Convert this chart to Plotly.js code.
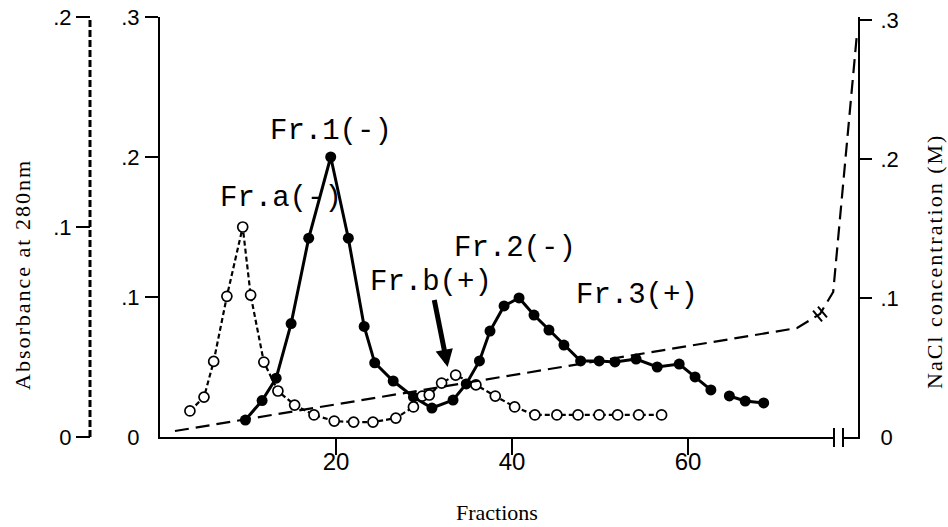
<!DOCTYPE html>
<html>
<head>
<meta charset="utf-8">
<script src="https://cdn.plot.ly/plotly-3.0.1.min.js"></script>
<style>
html,body{margin:0;padding:0;background:#fff;}
#chart{width:948px;height:527px;}
</style>
</head>
<body>
<div id="chart"></div>
<script>
// ---- Data ----
// Open circles, dashed curve (left dashed axis, 0-0.2): Fr.a(-), Fr.b(+)
const openFractions = [3.4, 5.0, 6.1, 7.6, 9.4, 10.3, 11.8, 13.4, 15.3, 17.5, 19.8, 22.0, 24.2, 26.8, 28.8, 29.8, 30.6, 32.0, 33.6, 35.9, 38.1, 40.3, 42.6, 45.1, 47.5, 49.9, 52.0, 54.4, 57.0];
const openAbsorbance = [0.0124, 0.019, 0.036, 0.067, 0.100, 0.0676, 0.0357, 0.0219, 0.0152, 0.0105, 0.0076, 0.0071, 0.0071, 0.009, 0.0143, 0.0195, 0.020, 0.0257, 0.0295, 0.0248, 0.0195, 0.0143, 0.0105, 0.0105, 0.0105, 0.0105, 0.0105, 0.0105, 0.0105];

// Filled circles, solid curve (left solid axis, 0-0.3): Fr.1(-), Fr.2(-), Fr.3(+)
const filledFractions = [9.7, 11.6, 13.2, 14.9, 16.9, 19.4, 21.4, 23.2, 24.4, 26.5, 28.8, 30.9, 33.3, 34.8, 36.3, 37.5, 39.1, 40.8, 42.5, 44.2, 45.9, 47.8, 49.9, 51.7, 54.1, 56.5, 59.0, 60.8, 62.6, null, 64.7, 66.5, 68.6];
const filledAbsorbance = [0.0121, 0.026, 0.042, 0.081, 0.142, 0.200, 0.142, 0.079, 0.053, 0.040, 0.0286, 0.0207, 0.0264, 0.0379, 0.0543, 0.0757, 0.0936, 0.0993, 0.0871, 0.0764, 0.0657, 0.0543, 0.0543, 0.0536, 0.0557, 0.050, 0.0521, 0.0429, 0.0336, null, 0.0293, 0.0257, 0.0243];

// NaCl gradient (right axis, 0-0.3 M)
const naclFractions = [1.7, 72.4, 75.0, 76.5, 79.2];
const naclConc = [0.0043, 0.0784, 0.0885, 0.1043, 0.29];
const naclBreakIndex = 2;      // break marks drawn on the gradient at this point

// Axis ticks / labels
const xTickVals = [20, 40, 60];
const absDashedTicks = [0, 0.1, 0.2];
const absSolidTicks = [0, 0.1, 0.2, 0.3];
const naclTicks = [0, 0.1, 0.2, 0.3];
const tickText = v => (v === 0 ? '0' : '.' + Math.round(v * 10));
const xAxisBreak = 77.1;       // fraction axis is broken here

// Peak labels
const labels = {
  a: 'Fr.a(-)', b: 'Fr.b(+)', one: 'Fr.1(-)', two: 'Fr.2(-)', three: 'Fr.3(+)'
};

// ---- Styling / layout ----
const W = 948, H = 527;
const M = {l: 60, r: 90, t: 17, b: 90};
const paperW = W - M.l - M.r;            // 798
const paperH = H - M.t - M.b;            // 420
const plotLeftPx = 160, dashedAxisPx = 90;
const xDomainStart = (plotLeftPx - M.l) / paperW;
const dashedPos = (dashedAxisPx - M.l) / paperW;
const pxPerFraction = 8.8;
const xMax = (W - M.r - plotLeftPx) / pxPerFraction;

const monoFont = {family: 'Liberation Mono, DejaVu Sans Mono, monospace', size: 29, color: '#000'};
const serifFont = {family: 'Liberation Serif, DejaVu Serif, serif', size: 22, color: '#000'};
const tickFontY = {family: 'Liberation Sans, Arial, sans-serif', size: 22, color: '#000'};
const tickFontX = {family: 'Liberation Sans, Arial, sans-serif', size: 24, color: '#000'};

const traces = [
  {
    x: naclFractions, y: naclConc, xaxis: 'x', yaxis: 'y3',
    mode: 'lines', line: {color: '#000', width: 2.2, dash: '14px,7px'},
    hoverinfo: 'skip', showlegend: false
  },
  {
    x: openFractions, y: openAbsorbance, xaxis: 'x', yaxis: 'y2',
    mode: 'lines+markers',
    line: {color: '#000', width: 2.2, dash: '5px,3px'},
    marker: {symbol: 'circle', size: 10, color: '#fff', line: {color: '#000', width: 1.7}},
    showlegend: false
  },
  {
    x: filledFractions, y: filledAbsorbance, xaxis: 'x', yaxis: 'y',
    mode: 'lines+markers', connectgaps: false,
    line: {color: '#000', width: 3},
    marker: {symbol: 'circle', size: 11, color: '#000'},
    showlegend: false
  }
];

// break marks on the gradient line (perpendicular ticks, pixel sized)
const ang = 40 * Math.PI / 180;
const along = [Math.cos(ang), Math.sin(ang)];
const perp = [Math.sin(ang), -Math.cos(ang)];
const shapes = [];
[-3.2, 3.2].forEach(d => {
  const cx = along[0] * d, cy = along[1] * d;
  shapes.push({
    type: 'line', xref: 'x', yref: 'y3', xsizemode: 'pixel', ysizemode: 'pixel',
    xanchor: naclFractions[naclBreakIndex], yanchor: naclConc[naclBreakIndex],
    x0: cx - perp[0] * 7, x1: cx + perp[0] * 7, y0: cy - perp[1] * 7, y1: cy + perp[1] * 7,
    line: {color: '#000', width: 2}
  });
});
// dashed absorbance axis line
shapes.push({
  type: 'line', xref: 'paper', yref: 'y2', x0: dashedPos, x1: dashedPos, y0: 0, y1: 0.2,
  line: {color: '#000', width: 3, dash: '7px,3px'}
});
// x axis break: white gap + two bars
shapes.push({
  type: 'rect', xref: 'x', yref: 'paper', xsizemode: 'pixel', ysizemode: 'pixel',
  xanchor: xAxisBreak, yanchor: 0, x0: -4, x1: 4, y0: -3, y1: 3,
  line: {width: 0}, fillcolor: '#fff'
});
[-4.5, 4.5].forEach(d => shapes.push({
  type: 'line', xref: 'x', yref: 'paper', xsizemode: 'pixel', ysizemode: 'pixel',
  xanchor: xAxisBreak, yanchor: 0, x0: d, x1: d, y0: -10, y1: 9,
  line: {color: '#000', width: 2}
}));

const annotations = [
  {x: filledFractions[5], y: filledAbsorbance[5], xref: 'x', yref: 'y', text: labels.one,
   showarrow: false, yshift: 26, font: monoFont},
  {x: openFractions[4], y: openAbsorbance[4], xref: 'x', yref: 'y2', text: labels.a,
   showarrow: false, xshift: 38, yshift: 29, font: monoFont},
  {x: filledFractions[17], y: filledAbsorbance[17], xref: 'x', yref: 'y', text: labels.two,
   showarrow: false, xshift: -4, yshift: 49, font: monoFont},
  {x: filledFractions[24], y: filledAbsorbance[24], xref: 'x', yref: 'y', text: labels.three,
   showarrow: false, xshift: 1, yshift: 64, font: monoFont},
  {x: openFractions[18], y: openAbsorbance[18], xref: 'x', yref: 'y2', text: labels.b,
   showarrow: true, arrowhead: 2, arrowsize: 0.7, arrowwidth: 5, arrowcolor: '#000',
   xshift: -8, yshift: 8, ax: -17, ay: -85, font: monoFont},
  // axis titles
  {xref: 'paper', yref: 'paper', x: (22 - M.l) / paperW, y: (437 - 275) / paperH,
   xanchor: 'center', yanchor: 'middle',
   text: 'Absorbance at 280nm', textangle: -90, showarrow: false, font: serifFont},
  {xref: 'paper', yref: 'paper', x: (934 - M.l) / paperW, y: (437 - 262) / paperH,
   xanchor: 'center', yanchor: 'middle',
   text: 'NaCl concentration (M)', textangle: -90, showarrow: false, font: serifFont},
  {xref: 'paper', yref: 'paper', x: (497 - M.l) / paperW, y: -(512 - 437) / paperH,
   xanchor: 'center', yanchor: 'middle',
   text: 'Fractions', showarrow: false, font: serifFont}
];

const layout = {
  width: W, height: H, margin: M,
  paper_bgcolor: '#fff', plot_bgcolor: '#fff',
  showlegend: false,
  xaxis: {
    domain: [xDomainStart, 1], range: [0, xMax],
    tickvals: xTickVals, ticktext: xTickVals.map(String),
    ticks: '', ticklabelstandoff: 2,
    minor: {tickvals: xTickVals, ticks: 'outside', ticklen: 16, tickwidth: 2, tickcolor: '#000', showgrid: false},
    showline: true, linecolor: '#000', linewidth: 2,
    showgrid: false, zeroline: false, tickfont: tickFontX, fixedrange: true
  },
  yaxis: {
    range: [0, 0.3], anchor: 'x', side: 'left',
    tickvals: absSolidTicks, ticktext: absSolidTicks.map(tickText),
    ticks: '', ticklabelstandoff: 14,
    minor: {tickvals: [0.1, 0.2, 0.3], ticks: 'outside', ticklen: 13, tickwidth: 2, tickcolor: '#000', showgrid: false},
    showline: true, linecolor: '#000', linewidth: 2,
    showgrid: false, zeroline: false, tickfont: tickFontY
  },
  yaxis2: {
    range: [0, 0.2], overlaying: 'y', anchor: 'free', position: dashedPos, side: 'left',
    tickvals: absDashedTicks, ticktext: absDashedTicks.map(tickText),
    ticks: 'outside', ticklen: 14, tickwidth: 2, tickcolor: '#000',
    showline: false, showgrid: false, zeroline: false, tickfont: tickFontY
  },
  yaxis3: {
    range: [0, 0.3 * 420 / 417], overlaying: 'y', anchor: 'x', side: 'right',
    tickvals: naclTicks, ticktext: naclTicks.map(tickText),
    ticks: '', ticklabelstandoff: 16,
    minor: {tickvals: [0.1, 0.2, 0.3], ticks: 'outside', ticklen: 12, tickwidth: 2, tickcolor: '#000', showgrid: false},
    showline: true, linecolor: '#000', linewidth: 2,
    showgrid: false, zeroline: false, tickfont: tickFontY
  },
  shapes: shapes,
  annotations: annotations
};

Plotly.newPlot('chart', traces, layout, {staticPlot: true, displayModeBar: false}).then(() => {
  document.querySelectorAll('g.annotation text').forEach(t => {
    const s = t.textContent;
    if (s.startsWith('Absorbance') || s.startsWith('NaCl')) t.style.letterSpacing = '2px';
  });
});
</script>
</body>
</html>
